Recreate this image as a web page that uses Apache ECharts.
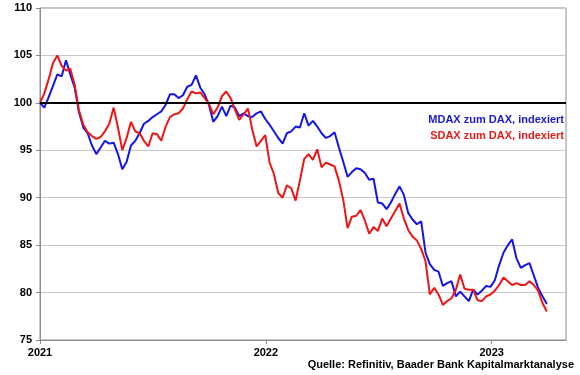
<!DOCTYPE html>
<html><head><meta charset="utf-8">
<script src="https://cdn.jsdelivr.net/npm/echarts@6/dist/echarts.min.js"></script>
<style>html,body{margin:0;padding:0;background:#fff}#c{width:580px;height:375px}</style>
</head><body><div id="c"></div><script>
// weekly observations starting 2021-01-01
const yearLabels = ['2021', '2022', '2023'];
const seriesNames = ['MDAX zum DAX, indexiert', 'SDAX zum DAX, indexiert'];
const sourceText = 'Quelle: Refinitiv, Baader Bank Kapitalmarktanalyse';
const baseline = 100;
const mdax = [
  100, 99.5, 100.6, 101.8, 103, 102.8, 104.5, 103, 101.6, 99,
  97.4, 96.8, 95.5, 94.6, 95.3, 96, 95.7, 95.8, 94.6, 93,
  93.8, 95.5, 96, 96.8, 97.8, 98.1, 98.5, 98.8, 99.1, 99.8,
  100.9, 100.9, 100.5, 100.8, 101.7, 101.9, 102.9, 101.6, 100.9, 99.8,
  98, 98.6, 99.6, 98.6, 99.7, 99.5, 98.6, 98.9, 98.6, 98.5,
  98.9, 99.1, 98.3, 97.7, 97, 96.3, 95.7, 96.8, 97, 97.5,
  97.4, 98.9, 97.6, 98.1, 97.5, 96.8, 96.3, 96.5, 96.9, 95.3,
  93.8, 92.2, 92.7, 93.1, 93, 92.6, 91.9, 92, 89.5, 89.4,
  88.8, 89.5, 90.4, 91.2, 90.3, 88.4, 87.7, 87.2, 87.5, 84.2,
  83, 82.4, 82.2, 80.7, 81, 81.2, 79.6, 80.1, 79.6, 79.1,
  80.3, 79.8, 80.2, 80.7, 80.6, 81.3, 82.9, 84.2, 85, 85.6,
  83.6, 82.6, 82.9, 83.1, 81.8, 80.5, 79.6, 78.8
];
const sdax = [
  100, 101, 102.5, 104.2, 105, 103.9, 103.4, 103.6, 101.9, 99.2,
  97.7, 96.9, 96.5, 96.2, 96.4, 97, 97.8, 99.5, 97.4, 95,
  96.3, 98, 97, 96.8, 96, 95.4, 96.8, 96.7, 96, 97.5,
  98.5, 98.8, 98.9, 99.4, 100.4, 101.2, 101, 101.1, 100.5, 99.9,
  98.8, 99.5, 100.7, 101.2, 100.5, 99.3, 98.2, 98.8, 99.4, 97.2,
  95.4, 96, 96.6, 93.7, 92.5, 90.5, 90, 91.3, 91, 89.7,
  91.8, 94.1, 94.6, 94, 95.1, 93.2, 93.7, 93.5, 93.3, 91.8,
  89.8, 86.8, 88, 88.1, 88.7, 87.6, 86.2, 86.9, 86.5, 87.8,
  87, 87.8, 88.6, 89.4, 87.8, 86.6, 85.9, 85.5, 84.6, 83.3,
  79.8, 80.5, 79.8, 78.7, 79.1, 79.4, 80.3, 81.9, 80.4, 80.3,
  80.3, 79.2, 79.1, 79.6, 79.8, 80.2, 80.8, 81.6, 81.2, 80.8,
  81, 80.8, 80.8, 81.2, 80.8, 80.2, 78.9, 78
];
const days = mdax.map((_, i) => i * 7);

const FONT = '"Liberation Sans", Arial, sans-serif';
const chart = echarts.init(document.getElementById('c'));
chart.setOption({
  animation: false,
  grid: { left: 40, right: 14, top: 8, bottom: 35, show: true, borderColor: '#8c8c8c', borderWidth: 1 },
  xAxis: {
    type: 'value', min: 0, max: 850, interval: 365,
    axisLine: { show: true, lineStyle: { color: '#8c8c8c', width: 1 } },
    axisTick: { show: true, length: 4, lineStyle: { color: '#8c8c8c' } },
    splitLine: { show: false },
    axisLabel: {
      color: '#000', fontWeight: 'bold', fontSize: 11, fontFamily: FONT, margin: 7,
      showMaxLabel: false,
      formatter: v => (v % 365 === 0 ? yearLabels[v / 365] : '')
    }
  },
  yAxis: {
    type: 'value', min: 75, max: 110, interval: 5,
    axisLine: { show: true, lineStyle: { color: '#8c8c8c', width: 1 } },
    axisTick: { show: true, length: 4, lineStyle: { color: '#8c8c8c' } },
    splitLine: { show: true, lineStyle: { color: '#c8c8c8', width: 1 } },
    axisLabel: { color: '#000', fontWeight: 'bold', fontSize: 11, fontFamily: FONT, margin: 8 }
  },
  series: [
    {
      name: seriesNames[0], type: 'line', showSymbol: false, symbol: 'none',
      data: days.map((d, i) => [d, mdax[i]]),
      lineStyle: { color: '#1414e6', width: 2 }, itemStyle: { color: '#1414e6' }, z: 2
    },
    {
      name: seriesNames[1], type: 'line', showSymbol: false, symbol: 'none',
      data: days.map((d, i) => [d, sdax[i]]),
      lineStyle: { color: '#f01414', width: 2 }, itemStyle: { color: '#f01414' }, z: 3,
      markLine: {
        silent: true, symbol: 'none', label: { show: false },
        lineStyle: { color: '#000', width: 2, type: 'solid' },
        data: [{ yAxis: baseline }], z: 10
      }
    }
  ],
  graphic: [
    { type: 'text', right: 16, top: 114, style: { text: seriesNames[0], fill: '#1a1ad6', font: 'bold 11px ' + FONT } },
    { type: 'text', right: 16, top: 130, style: { text: seriesNames[1], fill: '#e81a1a', font: 'bold 11px ' + FONT } },
    { type: 'text', right: 6, top: 359, style: { text: sourceText, fill: '#000', font: 'bold 11px ' + FONT } }
  ]
});
</script></body></html>
